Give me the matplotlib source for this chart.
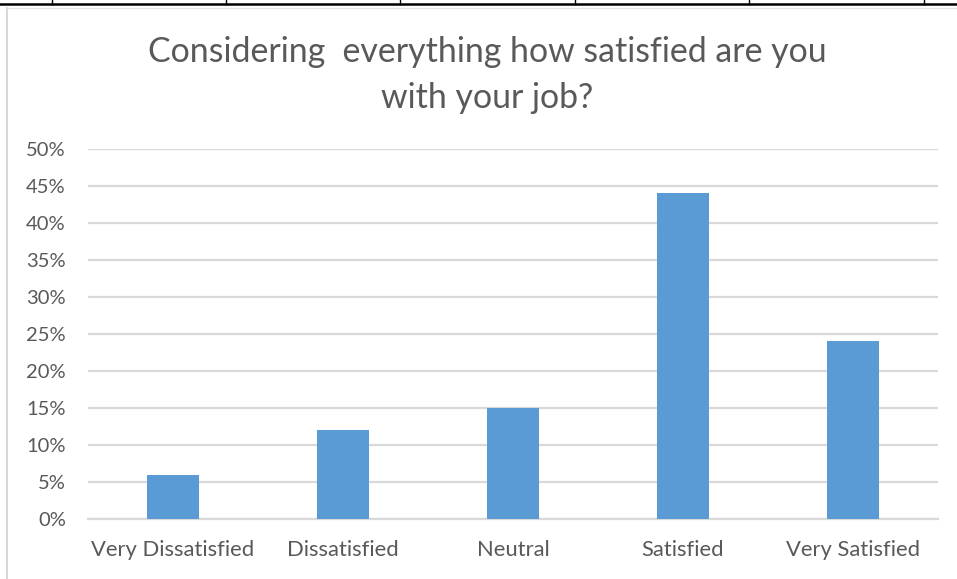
import matplotlib
matplotlib.use("Agg")
import matplotlib.pyplot as plt
from matplotlib.lines import Line2D
from matplotlib.ticker import PercentFormatter

categories = ["Very Dissatisfied", "Dissatisfied", "Neutral", "Satisfied", "Very Satisfied"]
shares = [0.06, 0.12, 0.15, 0.44, 0.24]
y_ticks = [0.0, 0.05, 0.10, 0.15, 0.20, 0.25, 0.30, 0.35, 0.40, 0.45, 0.50]

text_color = "#595959"
bar_color = "#5B9BD5"
grid_color = "#D9D9D9"

plt.rcParams["font.family"] = ["Lato", "DejaVu Sans"]

W, H = 957, 579
fig = plt.figure(figsize=(W / 100, H / 100), dpi=100)
fig.patch.set_facecolor("white")

ax = fig.add_axes([88 / W, 1 - 519 / H, (938 - 88) / W, (519 - 149) / H])
x = range(len(categories))
ax.bar(x, shares, width=0.31, color=bar_color, zorder=3)
ax.set_xlim(-0.5, len(categories) - 0.5)
ax.set_ylim(0, 0.5)
ax.set_yticks(y_ticks)
ax.yaxis.set_major_formatter(PercentFormatter(1.0, decimals=0))
ax.set_xticks(list(x))
ax.set_xticklabels(categories)
ax.grid(axis="y", color=grid_color, linewidth=1.6, zorder=0)
ax.tick_params(axis="y", length=0, pad=16, labelsize=14.5, labelcolor=text_color)
ax.tick_params(axis="x", length=0, pad=15, labelsize=15.8, labelcolor=text_color)
for side in ["top", "right", "left"]:
    ax.spines[side].set_visible(False)
ax.spines["bottom"].set_color(grid_color)
ax.spines["bottom"].set_linewidth(1.6)

fig.text(487 / W, 1 - 75 / H, "Considering  everything how satisfied are you\nwith your job?",
         ha="center", va="center", fontsize=24.4, color=text_color, linespacing=1.55)

# sheet frame: dark rule with column ticks along the top, gray chart border on the left
fig.add_artist(Line2D([0, 1], [1 - 3.5 / H, 1 - 3.5 / H], color="black", linewidth=1.8))
for cx in [52, 226, 400, 575, 749, 924]:
    fig.add_artist(Line2D([cx / W, cx / W], [1 - 3.5 / H, 1], color="black", linewidth=1.0))
fig.add_artist(Line2D([7 / W, 7 / W], [0, 1 - 8 / H], color="#D0D0D0", linewidth=1.2))
fig.add_artist(Line2D([7 / W, 1], [1 - 8 / H, 1 - 8 / H], color="#E4E4E4", linewidth=1.0))

fig.savefig("out.png", dpi=100)
